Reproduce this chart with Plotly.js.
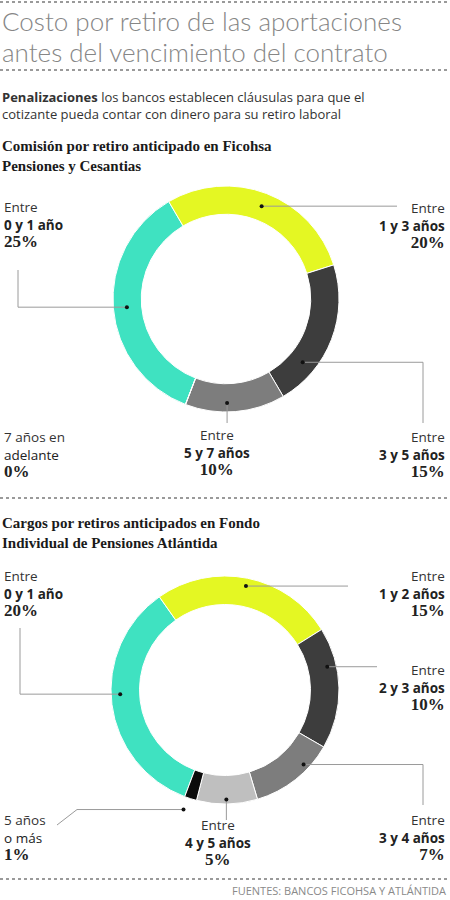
<!DOCTYPE html>
<html><head><meta charset="utf-8">
<script src="https://cdn.plot.ly/plotly-3.0.1.min.js"></script>
<style>html,body{margin:0;padding:0;background:#fff}#chart{width:450px;height:900px}</style>
</head><body><div id="chart"></div>
<script>
// ---- DATA ----
const ficohsaTop = ["Entre", "Entre", "Entre", "Entre", "7 años en"];
const ficohsaMain = ["0 y 1 año", "1 y 3 años", "3 y 5 años", "5 y 7 años", "adelante"];
const ficohsaValues = [25, 20, 15, 10, 0];
const atlantidaTop = ["Entre", "Entre", "Entre", "Entre", "Entre", "5 años"];
const atlantidaMain = ["0 y 1 año", "1 y 2 años", "2 y 3 años", "3 y 4 años", "4 y 5 años", "o más"];
const atlantidaValues = [20, 15, 10, 7, 5, 1];
const ficohsaColors = ["#3fe2c1", "#e4f723", "#3d3d3d", "#7d7d7d", "#cfcfcf"];
const atlantidaColors = ["#3fe2c1", "#e4f723", "#3d3d3d", "#7d7d7d", "#bfbfbf", "#0b0b0b"];

// ---- LAYOUT HELPERS ----
const W = 450, H = 900;
const px = x => x / W, py = y => 1 - y / H;
const charts = [
  {labelsTop: ficohsaTop, labelsMain: ficohsaMain, values: ficohsaValues, colors: ficohsaColors,
   cx: 226, cy: 299, R: 113, rot: 201,
   labels: [
     {x: 2, y: 207, align: 'left', bold: true},
     {x: 447, y: 208, align: 'right', bold: true},
     {x: 447, y: 437, align: 'right', bold: true},
     {x: 217, y: 436, align: 'center', bold: true},
     {x: 2, y: 437, align: 'left', bold: false}
   ],
   leaders: [
     {i: 0, f: 0.5, r: 0.88, path: d => [[18, d[1]], [18, 270]]},
     {i: 1, f: 0.5, r: 0.88, path: d => [[397, d[1]]]},
     {i: 2, f: 0.74, r: 0.88, path: d => [[423, d[1]], [423, 423]]},
     {i: 3, f: 0.58, r: 0.92, path: d => [[d[0], 423]]}
   ]},
  {labelsTop: atlantidaTop, labelsMain: atlantidaMain, values: atlantidaValues, colors: atlantidaColors,
   cx: 225, cy: 690, R: 114, rot: 200.7,
   labels: [
     {x: 2, y: 576, align: 'left', bold: true},
     {x: 447, y: 576, align: 'right', bold: true},
     {x: 447, y: 670, align: 'right', bold: true},
     {x: 447, y: 820, align: 'right', bold: true},
     {x: 218, y: 825, align: 'center', bold: true},
     {x: 2, y: 820, align: 'left', bold: false}
   ],
   leaders: [
     {i: 0, f: 0.54, r: 0.92, path: d => [[20, d[1]], [20, 628]]},
     {i: 1, f: 0.5, r: 0.93, path: d => [[348, d[1]]]},
     {i: 2, f: 0.31, r: 0.92, path: d => [[377, d[1]]]},
     {i: 3, f: 0.31, r: 0.95, path: d => [[423, d[1]], [423, 805]]},
     {i: 4, f: 0.51, r: 0.96, path: d => [[d[0], 820]]},
     {i: 5, f: 0.75, r: 1.11, path: d => [[77, d[1]], [57, 825]]}
   ]}
];

const SANS = "Open Sans, Lato, sans-serif";
const SERIF = "Liberation Serif, DejaVu Serif, serif";
const traces = [], shapes = [], annotations = [];

function ann(text, x, y, opts) {
  annotations.push(Object.assign({
    text: text, x: px(x), y: py(y), xref: 'paper', yref: 'paper',
    xanchor: 'left', yanchor: 'middle', align: 'left', showarrow: false,
    font: {family: SANS, size: 13, color: '#222'}
  }, opts || {}));
}

charts.forEach(c => {
  traces.push({
    type: 'pie', values: c.values, labels: c.labelsMain.map((m, k) => c.labelsTop[k] + ' ' + m),
    marker: {colors: c.colors, line: {color: '#ffffff', width: 1}},
    hole: 0.75, sort: false, direction: 'clockwise', rotation: c.rot,
    textinfo: 'none', hoverinfo: 'label+value', showlegend: false,
    domain: {x: [px(c.cx - c.R), px(c.cx + c.R)], y: [py(c.cy + c.R), py(c.cy - c.R)]}
  });
  const total = c.values.reduce((a, b) => a + b, 0);
  c.leaders.forEach(L => {
    let cum = 0;
    for (let k = 0; k < L.i; k++) cum += c.values[k];
    const ang = (c.rot + (cum + L.f * c.values[L.i]) / total * 360) * Math.PI / 180;
    const d = [c.cx + c.R * L.r * Math.sin(ang), c.cy - c.R * L.r * Math.cos(ang)];
    const pts = [d].concat(L.path(d));
    for (let k = 0; k < pts.length - 1; k++) {
      shapes.push({type: 'line', xref: 'paper', yref: 'paper',
        x0: px(pts[k][0]), y0: py(pts[k][1]), x1: px(pts[k + 1][0]), y1: py(pts[k + 1][1]),
        line: {color: '#9a9a9a', width: 1}});
    }
    shapes.push({type: 'circle', xref: 'paper', yref: 'paper',
      x0: px(d[0] - 2), x1: px(d[0] + 2), y0: py(d[1] + 2), y1: py(d[1] - 2),
      fillcolor: '#111', line: {width: 0}});
  });
  c.labels.forEach((lab, k) => {
    const main = lab.bold ? '<b>' + c.labelsMain[k] + '</b>' : c.labelsMain[k];
    const txt = '<span style="color:#333">' + c.labelsTop[k] + '</span><br>' +
      '<span style="color:#222">' + main + '</span><br>' +
      '<span style="font-family:Liberation Serif, DejaVu Serif, serif;font-size:17px"><b>' + c.values[k] + '%</b></span>';
    ann(txt, lab.x, lab.y + 17, {xanchor: lab.align, align: lab.align,
      font: {family: SANS, size: 13.5, color: '#222'}});
  });
});

// Header texts
ann('<span style="font-size:26px">Costo por retiro de las aportaciones</span><br>' +
    '<span style="font-size:26px">antes del vencimiento del contrato</span>', 0, 36,
    {font: {family: "Lato, Open Sans, sans-serif", size: 24, color: '#868686', weight: 300}});
ann('<b>Penalizaciones</b> los bancos establecen cláusulas para que el<br>cotizante pueda contar con dinero para su retiro laboral',
    0, 106, {font: {family: SANS, size: 13, color: '#333'}});
ann('<b>Comisión por retiro anticipado en Ficohsa<br>Pensiones y Cesantias</b>', 0, 155.5,
    {font: {family: SERIF, size: 15, color: '#1a1a1a'}});
ann('<b>Cargos por retiros anticipados en Fondo<br>Individual de Pensiones Atlántida</b>', 0, 532.5,
    {font: {family: SERIF, size: 15, color: '#1a1a1a'}});
ann('FUENTES: BANCOS FICOHSA Y ATLÁNTIDA', 448, 890, {xanchor: 'right', font: {family: SANS, size: 11, color: '#8a8a8a'}});

[2, 70, 498, 879].forEach(y => shapes.push({type: 'line', xref: 'paper', yref: 'paper',
  x0: 0, x1: 1, y0: py(y), y1: py(y), line: {color: '#9a9a9a', width: 2, dash: 'dot'}}));

Plotly.newPlot('chart', traces, {
  width: W, height: H, margin: {l: 0, r: 0, t: 0, b: 0},
  paper_bgcolor: '#fff', plot_bgcolor: '#fff', showlegend: false,
  shapes: shapes, annotations: annotations
}, {displayModeBar: false, staticPlot: true});
</script></body></html>
